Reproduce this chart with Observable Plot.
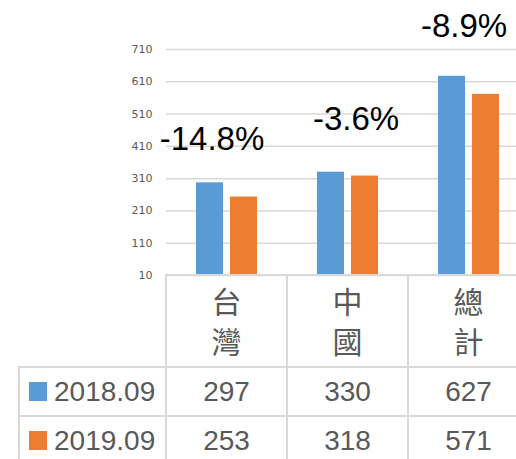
<!DOCTYPE html>
<html><head><meta charset="utf-8">
<script src="https://cdn.jsdelivr.net/npm/d3@7"></script>
<script src="https://cdn.jsdelivr.net/npm/@observablehq/plot@0.6"></script>
<style>
html,body{margin:0;padding:0;background:#fff;overflow:hidden;width:516px;height:459px}
#wrap{position:relative;width:516px;height:459px;overflow:hidden}
#wrap svg{position:absolute;left:0;top:0;max-width:none !important;width:529px !important;height:278px !important}
#wrap svg g[aria-label="y-axis tick label"] text{fill:#595959}
.ln{position:absolute;background:#d9d9d9}
.cell{position:absolute;text-align:center;color:#595959;font-family:"Liberation Sans",Arial,sans-serif;font-size:28px;white-space:nowrap;line-height:49px;height:49px}
.hdr{position:absolute;text-align:center;color:#595959;font-family:"Noto Sans CJK TC","Noto Sans CJK SC",sans-serif;font-size:30px;line-height:40px;height:40px}
.sw{position:absolute;width:18px;height:19px}
</style></head><body><div id="wrap"></div>
<script>
const categories = ["台灣", "中國", "總計"];
const seriesNames = ["2018.09", "2019.09"];
const values2018 = [297, 330, 627];
const values2019 = [253, 318, 571];
const changeLabels = ["-14.8%", "-3.6%", "-8.9%"];
const yTicks = [10, 110, 210, 310, 410, 510, 610, 710];
const colors = ["#5B9BD5", "#ED7D31"];

const seriesValues = [values2018, values2019];
const rows = categories.flatMap((c, i) => seriesNames.map((s, j) => ({category: c, series: s, value: seriesValues[j][i]})));
const labels = categories.map((c, i) => ({category: c, label: changeLabels[i], value: values2018[i]}));
const nudge = {"台灣": [-15, -33], "中國": [8, -42], "總計": [-5, -39]};

const chart = Plot.plot({
  width: 529, height: 278,
  marginLeft: 166, marginRight: 0, marginTop: 49, marginBottom: 3,
  style: {background: "transparent", overflow: "visible", maxWidth: "none"},
  fx: {domain: categories, padding: 0, axis: null},
  x: {domain: seriesNames, paddingInner: 0.2, paddingOuter: 0.855, axis: null},
  y: {domain: [10, 710], range: [275, 49]},
  color: {domain: seriesNames, range: colors},
  marks: [
    Plot.ruleY(yTicks, {stroke: "#d9d9d9", strokeWidth: 1.5}),
    Plot.axisY({ticks: yTicks, tickSize: 0, tickPadding: 14, fontSize: 11, fontFamily: "DejaVu Sans", label: null}),
    Plot.barY(rows, {fx: "category", x: "series", y1: 10, y2: "value", fill: "series"}),
    ...categories.map(c => Plot.text(labels.filter(d => d.category === c), {
      fx: "category", y: "value", text: "label", lineAnchor: "bottom",
      dx: nudge[c][0], dy: nudge[c][1], fontSize: 33, fill: "#000",
      fontFamily: "Liberation Sans, Arial, sans-serif"
    }))
  ]
});
const wrap = document.getElementById("wrap");
wrap.appendChild(chart);

// table under the chart, aligned to the fx scale
const fxs = chart.scale("fx");
const step = fxs.step || fxs.bandwidth || (fxs.range[1] - fxs.range[0]) / categories.length;
const starts = categories.map((c, i) => (fxs.apply ? fxs.apply(c) : fxs.range[0] + i * step));
const ys = chart.scale("y");
const yBase = ys.apply ? ys.apply(10) : 275;
const headerBottom = 367, rowH = 49;
function line(x, y, w, h) {
  const d = document.createElement("div");
  d.className = "ln";
  d.style.left = x + "px"; d.style.top = y + "px"; d.style.width = w + "px"; d.style.height = h + "px";
  wrap.appendChild(d);
}
const right = starts[starts.length - 1] + step;
line(starts[0] - 1, yBase - 1, right - starts[0] + 2, 2);
[headerBottom, headerBottom + rowH, headerBottom + 2 * rowH].forEach(y => line(18, y - 1, right - 18 + 2, 2));
line(18, headerBottom - 1, 2, 2 * rowH + 2);
[...starts, right].forEach(x => line(x - 1, yBase - 1, 2, headerBottom + 2 * rowH - yBase + 2));

categories.forEach((c, i) => {
  [...c].forEach((ch, k) => {
    const h = document.createElement("div");
    h.className = "hdr";
    h.style.left = starts[i] + "px"; h.style.width = step + "px"; h.style.top = (yBase + 5 + k * 40) + "px";
    h.textContent = ch;
    wrap.appendChild(h);
  });
});
seriesNames.forEach((s, j) => {
  const top = headerBottom + j * rowH;
  const sw = document.createElement("div");
  sw.className = "sw"; sw.style.background = colors[j];
  sw.style.left = "29px"; sw.style.top = (top + 15) + "px";
  wrap.appendChild(sw);
  const t = document.createElement("div");
  t.className = "cell"; t.style.left = "54px"; t.style.top = top + "px"; t.style.textAlign = "left";
  t.textContent = s;
  wrap.appendChild(t);
  categories.forEach((c, i) => {
    const v = document.createElement("div");
    v.className = "cell"; v.style.left = starts[i] + "px"; v.style.width = step + "px"; v.style.top = top + "px";
    v.textContent = seriesValues[j][i];
    wrap.appendChild(v);
  });
});
</script></body></html>
